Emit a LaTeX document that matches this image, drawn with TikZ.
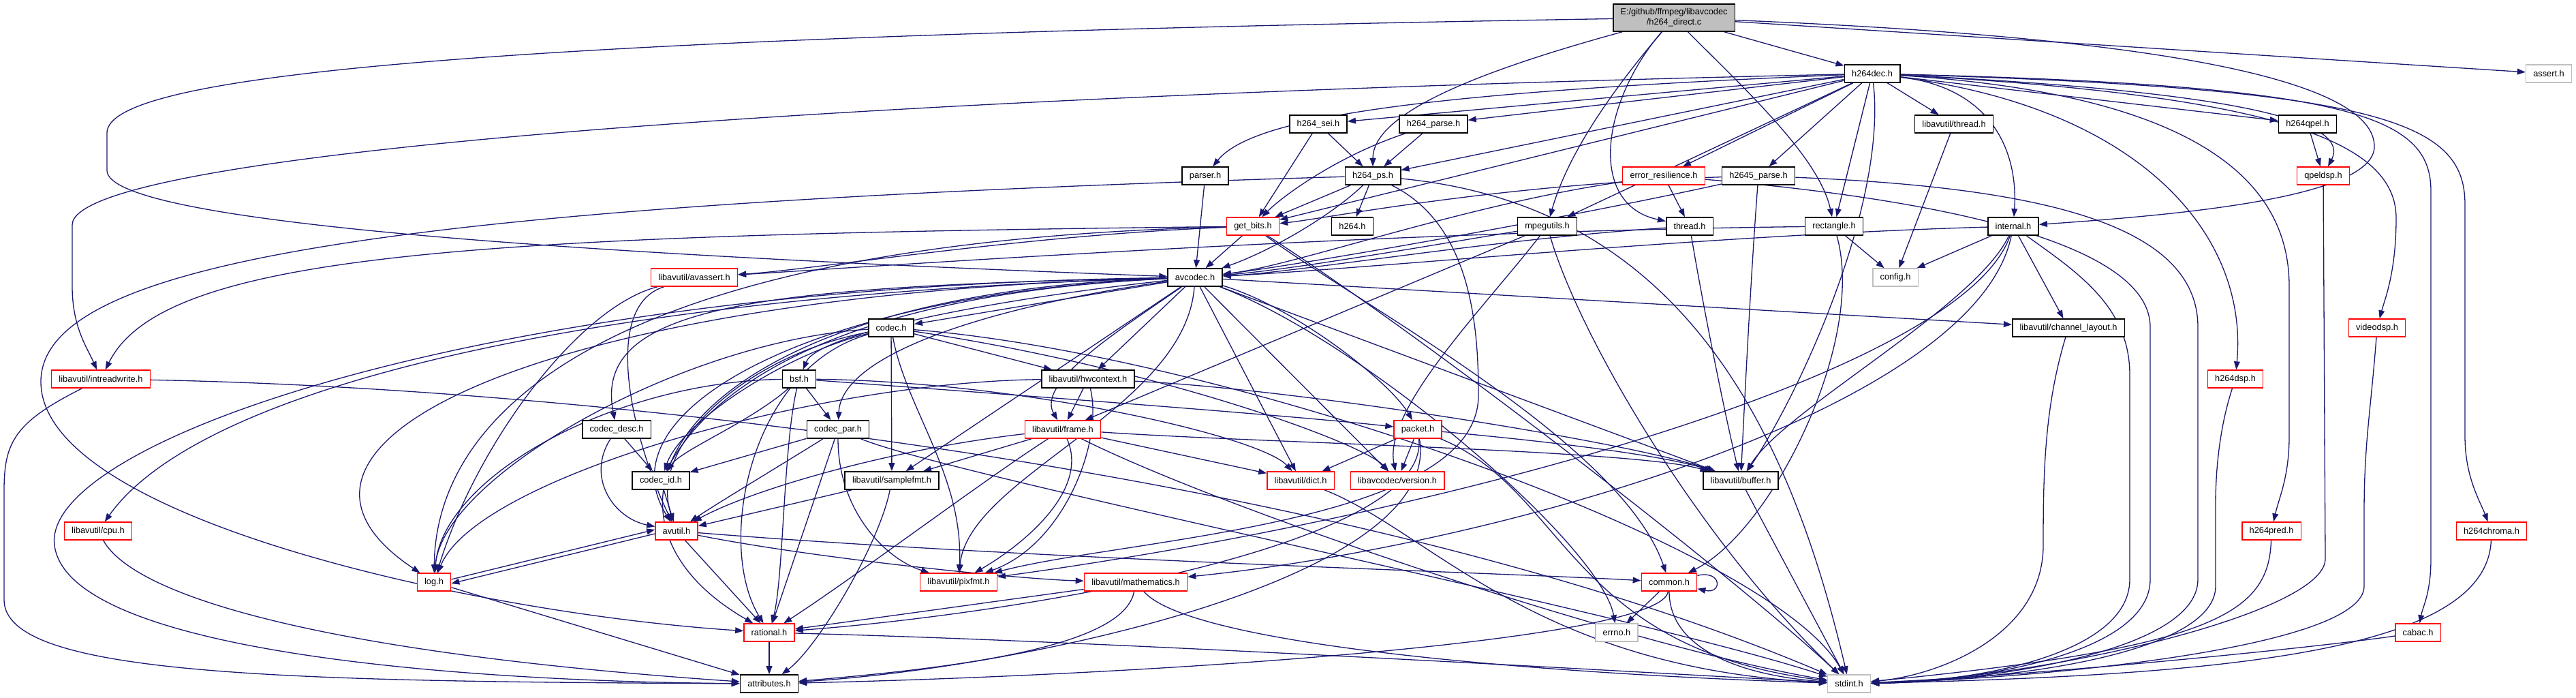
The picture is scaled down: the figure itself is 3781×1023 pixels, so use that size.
\documentclass[tikz,border=0pt]{standalone}
\usepackage{fontspec}
\setmainfont{Liberation Sans}
\usetikzlibrary{arrows.meta}
\definecolor{edgec}{HTML}{191970}
\definecolor{rootfill}{HTML}{BFBFBF}
\definecolor{grayb}{HTML}{BFBFBF}
\newcommand{\nfont}{\fontsize{6.4}{7.6}\selectfont}
\pgfdeclarelayer{bg}
\pgfdeclarelayer{paper}
\pgfsetlayers{paper,bg,main}
\tikzset{
  nblk/.style={draw=black, line width=0.8pt, fill=white, inner xsep=5.4pt, inner ysep=0pt, minimum height=13pt, font=\nfont},
  nred/.style={nblk, draw=red, line width=0.7pt},
  ngry/.style={nblk, draw=grayb, line width=0.7pt},
  edg/.style={draw=edgec, line width=0.65pt, -{Triangle[length=6pt,width=4.4pt]}}
}
\begin{document}
\begin{tikzpicture}[x=0.5pt,y=-0.5pt]
\begin{pgfonlayer}{paper}
\fill[white] (0,0) rectangle (3781,1023);
\end{pgfonlayer}
\useasboundingbox (0,0) rectangle (3781,1023);

% nodes
\node[nblk, fill=rootfill, align=center, minimum height=20pt] (root) at (2457,26) {E:/github/ffmpeg/libavcodec\\/h264\_direct.c};
\node[nblk] (h264dec) at (2748,108) {h264dec.h};
\node[ngry] (assert) at (3741,108) {assert.h};
\node[nblk] (sei) at (1935,182) {h264\_sei.h};
\node[nblk] (parse) at (2104,182) {h264\_parse.h};
\node[nblk] (avthread) at (2868,182) {libavutil/thread.h};
\node[nblk] (qpel) at (3387,182) {h264qpel.h};
\node[nblk] (parser) at (1769,258) {parser.h};
\node[nblk] (ps) at (2015,258) {h264\_ps.h};
\node[nred] (er) at (2442,258) {error\_resilience.h};
\node[nblk] (h2645) at (2581,258) {h2645\_parse.h};
\node[nred] (qpeldsp) at (3410,258) {qpeldsp.h};
\node[nred] (getbits) at (1839,332) {get\_bits.h};
\node[nblk] (h264h) at (1985,332) {h264.h};
\node[nblk] (mpegutils) at (2271,332) {mpegutils.h};
\node[nblk] (thread) at (2480,332) {thread.h};
\node[nblk] (rect) at (2692,332) {rectangle.h};
\node[nblk] (internal) at (2955,332) {internal.h};
\node[nred] (avassert) at (1019,407) {libavutil/avassert.h};
\node[nblk] (avcodec) at (1754,407) {avcodec.h};
\node[ngry] (config) at (2782,407) {config.h};
\node[nblk] (codec) at (1308,481) {codec.h};
\node[nblk] (chl) at (3036,481) {libavutil/channel\_layout.h};
\node[nred] (videodsp) at (3489,481) {videodsp.h};
\node[nred] (irw) at (148,556) {libavutil/intreadwrite.h};
\node[nblk] (bsf) at (1173,556) {bsf.h};
\node[nblk] (hwctx) at (1597,556) {libavutil/hwcontext.h};
\node[nred] (h264dsp) at (3281,556) {h264dsp.h};
\node[nblk] (cdesc) at (905,630) {codec\_desc.h};
\node[nblk] (cpar) at (1230,630) {codec\_par.h};
\node[nred] (frame) at (1560,630) {libavutil/frame.h};
\node[nred] (packet) at (2081,630) {packet.h};
\node[nblk] (cid) at (970,705) {codec\_id.h};
\node[nblk] (sfmt) at (1309,705) {libavutil/samplefmt.h};
\node[nred] (dict) at (1909,705) {libavutil/dict.h};
\node[nred] (version) at (2051,705) {libavcodec/version.h};
\node[nblk] (buffer) at (2555,705) {libavutil/buffer.h};
\node[nred] (cpu) at (144,779) {libavutil/cpu.h};
\node[nred] (avutil) at (993,779) {avutil.h};
\node[nred] (h264pred) at (3334,779) {h264pred.h};
\node[nred] (h264chroma) at (3657,779) {h264chroma.h};
\node[nred] (log) at (637,854) {log.h};
\node[nred] (pixfmt) at (1407,854) {libavutil/pixfmt.h};
\node[nred] (math) at (1667,854) {libavutil/mathematics.h};
\node[nred] (common) at (2450,854) {common.h};
\node[nred] (rational) at (1129,928) {rational.h};
\node[ngry] (errno) at (2373,928) {errno.h};
\node[nred] (cabac) at (3549,928) {cabac.h};
\node[nblk] (attr) at (1129,1003) {attributes.h};
\node[ngry] (stdint) at (2714,1003) {stdint.h};

\begin{pgfonlayer}{bg}
% root
\draw[edg] (root) -- (h264dec);
\draw[edg] (root) -- (assert);
\draw[edg] (root) .. controls (3300,60) and (3485,140) .. (3485,215) .. controls (3485,290) and (3200,315) .. (internal);
\draw[edg] (root) .. controls (700,55) and (157,110) .. (157,195) -- (157,250) .. controls (157,330) and (900,375) .. (avcodec);
\draw[edg] (root) .. controls (2150,110) and (2015,170) .. (ps);
\draw[edg] (root) .. controls (2360,140) and (2300,230) .. (mpegutils);
\draw[edg] (root) .. controls (2350,150) and (2330,300) .. (thread);
\draw[edg] (root) .. controls (2560,130) and (2670,230) .. (rect);
% h264dec
\draw[edg] (h264dec) .. controls (1300,140) and (106,220) .. (106,330) -- (106,420) .. controls (106,480) and (128,510) .. (irw);
\draw[edg] (h264dec) -- (avthread);
\draw[edg] (h264dec) .. controls (3450,125) and (3568,170) .. (3568,280) -- (3568,820) .. controls (3568,870) and (3556,890) .. (cabac);
\draw[edg] (h264dec) -- (er);
\draw[edg] (h264dec) -- (getbits);
\draw[edg] (h264dec) -- (parse);
\draw[edg] (h264dec) -- (ps);
\draw[edg] (h264dec) -- (sei);
\draw[edg] (h264dec) -- (h2645);
\draw[edg] (h264dec) .. controls (3500,130) and (3618,180) .. (3618,300) -- (3618,640) .. controls (3618,700) and (3640,735) .. (h264chroma);
\draw[edg] (h264dec) .. controls (3150,160) and (3300,350) .. (h264dsp);
\draw[edg] (h264dec) .. controls (3250,140) and (3360,280) .. (3360,420) -- (3360,640) .. controls (3360,700) and (3345,730) .. (h264pred);
\draw[edg] (h264dec) -- (qpel);
\draw[edg] (h264dec) .. controls (2930,130) and (2962,230) .. (internal);
\draw[edg] (h264dec) -- (mpegutils);
\draw[edg] (h264dec) .. controls (2100,135) and (1840,170) .. (parser);
\draw[edg] (h264dec) .. controls (3300,135) and (3450,180) .. (qpeldsp);
\draw[edg] (h264dec) -- (rect);
\draw[edg] (h264dec) .. controls (3350,140) and (3517,210) .. (3517,320) .. controls (3517,400) and (3500,440) .. (videodsp);
\draw[edg] (h264dec) .. controls (2770,300) and (2640,580) .. (buffer);
% sei, parse, small
\draw[edg] (sei) -- (getbits);
\draw[edg] (sei) -- (ps);
\draw[edg] (parse) -- (ps);
\draw[edg] (parse) .. controls (1960,230) and (1880,290) .. (getbits);
\draw[edg] (avthread) -- (config);
\draw[edg] (qpel) -- (qpeldsp);
\draw[edg] (parser) -- (avcodec);
% h264_ps
\draw[edg] (ps) -- (getbits);
\draw[edg] (ps) -- (h264h);
\draw[edg] (ps) .. controls (1950,320) and (1860,370) .. (avcodec);
\draw[edg] (ps) .. controls (2160,330) and (2170,480) .. (2170,580) .. controls (2170,770) and (1650,790) .. (pixfmt);
\draw[edg] (ps) .. controls (600,300) and (60,380) .. (60,560) .. controls (60,760) and (700,900) .. (rational);
\draw[edg] (ps) .. controls (2450,300) and (2620,600) .. (stdint);
% error_resilience
\draw[edg] (er) -- (thread);
\draw[edg] (er) .. controls (2150,300) and (1900,390) .. (avcodec);
\draw[edg] (er) .. controls (2700,280) and (3156,330) .. (3156,480) -- (3156,850) .. controls (3156,960) and (2900,1000) .. (stdint);
% h2645
\draw[edg] (h2645) .. controls (2200,270) and (1950,320) .. (getbits);
\draw[edg] (h2645) .. controls (2300,320) and (1900,390) .. (avcodec);
\draw[edg] (h2645) .. controls (2570,400) and (2560,600) .. (buffer);
\draw[edg] (h2645) .. controls (3000,275) and (3226,330) .. (3226,480) -- (3226,850) .. controls (3226,960) and (2900,1000) .. (stdint);
% qpeldsp
\draw[edg] (qpeldsp) -- (3413,820) .. controls (3413,900) and (3000,995) .. (stdint);
% get_bits
\draw[edg] (getbits) -- (avcodec);
\draw[edg] (getbits) .. controls (1500,345) and (1200,395) .. (avassert);
\draw[edg] (getbits) .. controls (700,345) and (240,370) .. (irw);
\draw[edg] (getbits) .. controls (900,355) and (640,600) .. (log);
\draw[edg] (getbits) .. controls (2000,450) and (2380,650) .. (common);
\draw[edg] (getbits) .. controls (2100,500) and (2550,850) .. (stdint);
% mpegutils
\draw[edg] (mpegutils) -- (frame);
\draw[edg] (mpegutils) .. controls (2100,360) and (1900,395) .. (avcodec);
\draw[edg] (mpegutils) .. controls (2180,450) and (2030,600) .. (version);
\draw[edg] (mpegutils) .. controls (2320,500) and (2500,800) .. (stdint);
% thread
\draw[edg] (thread) .. controls (2500,450) and (2530,600) .. (buffer);
\draw[edg] (thread) .. controls (2200,350) and (1900,400) .. (avcodec);
% rectangle
\draw[edg] (rect) -- (config);
\draw[edg] (rect) .. controls (2000,340) and (1300,390) .. (avassert);
\draw[edg] (rect) .. controls (2740,500) and (2600,780) .. (common);
% internal
\draw[edg] (internal) -- (config);
\draw[edg] (internal) .. controls (2500,345) and (2000,395) .. (avcodec);
\draw[edg] (internal) -- (chl);
\draw[edg] (internal) .. controls (2900,450) and (2620,600) .. (buffer);
\draw[edg] (internal) .. controls (2900,600) and (2200,800) .. (math);
\draw[edg] (internal) .. controls (2880,550) and (2100,760) .. (pixfmt);
\draw[edg] (internal) .. controls (3050,400) and (3126,450) .. (3126,550) -- (3126,850) .. controls (3126,960) and (2900,1000) .. (stdint);
% right side to stdint
\draw[edg] (videodsp) .. controls (3480,600) and (3470,650) .. (3470,750) -- (3470,860) .. controls (3470,950) and (3000,995) .. (stdint);
\draw[edg] (h264dsp) .. controls (3260,620) and (3252,680) .. (3252,740) -- (3252,860) .. controls (3252,950) and (3000,995) .. (stdint);
\draw[edg] (h264pred) .. controls (3330,900) and (3250,950) .. (stdint);
\draw[edg] (h264chroma) .. controls (3650,950) and (3300,990) .. (stdint);
\draw[edg] (cabac) .. controls (3400,950) and (3000,990) .. (stdint);
\draw[edg] (chl) .. controls (3000,600) and (2999,700) .. (2999,800) .. controls (2999,930) and (2850,990) .. (stdint);
% avcodec
\draw[edg] (avcodec) -- (codec);
\draw[edg] (avcodec) .. controls (1450,440) and (1200,490) .. (bsf);
\draw[edg] (avcodec) .. controls (1100,420) and (870,450) .. (cdesc);
\draw[edg] (avcodec) .. controls (1450,450) and (1235,520) .. (cpar);
\draw[edg] (avcodec) .. controls (1250,430) and (1050,560) .. (cid);
\draw[edg] (avcodec) .. controls (1200,430) and (880,600) .. (avutil);
\draw[edg] (avcodec) .. controls (800,430) and (330,650) .. (log);
\draw[edg] (avcodec) .. controls (1000,430) and (820,750) .. (rational);
\draw[edg] (avcodec) .. controls (700,420) and (60,650) .. (80,800) .. controls (100,960) and (700,1000) .. (attr);
\draw[edg] (avcodec) .. controls (900,430) and (300,560) .. (cpu);
\draw[edg] (avcodec) -- (sfmt);
\draw[edg] (avcodec) -- (hwctx);
\draw[edg] (avcodec) .. controls (1650,480) and (1520,560) .. (frame);
\draw[edg] (avcodec) .. controls (1740,600) and (1420,700) .. (pixfmt);
\draw[edg] (avcodec) .. controls (1900,450) and (2040,560) .. (packet);
\draw[edg] (avcodec) -- (dict);
\draw[edg] (avcodec) -- (version);
\draw[edg] (avcodec) -- (buffer);
\draw[edg] (avcodec) -- (chl);
\draw[edg] (avcodec) .. controls (2000,500) and (2350,800) .. (errno);
% codec
\draw[edg] (codec) -- (sfmt);
\draw[edg] (codec) -- (hwctx);
\draw[edg] (codec) .. controls (1100,520) and (950,650) .. (avutil);
\draw[edg] (codec) .. controls (1000,500) and (650,700) .. (log);
\draw[edg] (codec) .. controls (1330,600) and (1415,700) .. (pixfmt);
\draw[edg] (codec) .. controls (1100,540) and (1050,800) .. (rational);
\draw[edg] (codec) .. controls (1150,520) and (1000,620) .. (cid);
\draw[edg] (codec) .. controls (1700,540) and (2000,650) .. (version);
\draw[edg] (codec) .. controls (1800,520) and (2600,800) .. (stdint);
% bsf
\draw[edg] (bsf) -- (cpar);
\draw[edg] (bsf) .. controls (1100,620) and (1000,660) .. (cid);
\draw[edg] (bsf) .. controls (900,560) and (650,700) .. (log);
\draw[edg] (bsf) .. controls (1150,650) and (1150,850) .. (rational);
\draw[edg] (bsf) .. controls (1500,560) and (1850,640) .. (dict);
\draw[edg] (bsf) .. controls (1500,580) and (1900,610) .. (packet);
% hwcontext
\draw[edg] (hwctx) -- (frame);
\draw[edg] (hwctx) .. controls (1620,650) and (1560,800) .. (pixfmt);
\draw[edg] (hwctx) .. controls (1900,570) and (2400,650) .. (buffer);
\draw[edg] (hwctx) .. controls (1200,560) and (700,700) .. (log);
% codec_desc, codec_par
\draw[edg] (cdesc) -- (cid);
\draw[edg] (cdesc) .. controls (860,700) and (900,760) .. (avutil);
\draw[edg] (cpar) -- (cid);
\draw[edg] (cpar) .. controls (1150,680) and (1050,740) .. (avutil);
\draw[edg] (cpar) -- (rational);
\draw[edg] (cpar) .. controls (1230,750) and (1300,820) .. (pixfmt);
\draw[edg] (cpar) .. controls (1400,700) and (2400,900) .. (stdint);
% frame
\draw[edg] (frame) .. controls (1300,660) and (1100,720) .. (avutil);
\draw[edg] (frame) .. controls (1850,650) and (2400,660) .. (buffer);
\draw[edg] (frame) -- (dict);
\draw[edg] (frame) .. controls (1450,700) and (1250,850) .. (rational);
\draw[edg] (frame) -- (sfmt);
\draw[edg] (frame) .. controls (1600,720) and (1500,800) .. (pixfmt);
\draw[edg] (frame) .. controls (1800,750) and (2400,950) .. (stdint);
% packet
\draw[edg] (packet) -- (dict);
\draw[edg] (packet) -- (version);
\draw[edg] (packet) .. controls (2300,650) and (2450,670) .. (buffer);
\draw[edg] (packet) .. controls (2100,800) and (1500,900) .. (rational);
\draw[edg] (packet) .. controls (2120,850) and (1500,980) .. (attr);
\draw[edg] (packet) .. controls (2300,720) and (2300,950) .. (stdint);
% lower
\draw[edg] (cid) -- (avutil);
\draw[edg] (sfmt) -- (avutil);
\draw[edg] (sfmt) .. controls (1290,800) and (1200,950) .. (attr);
\draw[edg] (dict) .. controls (2100,780) and (2250,980) .. (stdint);
\draw[edg] (buffer) -- (stdint);
\draw[edg] (cpu) .. controls (200,880) and (500,960) .. (attr);
\draw[edg] (irw) .. controls (20,620) and (6,650) .. (6,720) -- (6,880) .. controls (6,990) and (400,1000) .. (attr);
\draw[edg] (irw) .. controls (900,570) and (2000,700) .. (stdint);
\draw[edg] (avassert) .. controls (880,450) and (930,650) .. (avutil);
\draw[edg] (avassert) .. controls (850,450) and (700,650) .. (log);
\draw[edg] (avutil) .. controls (1500,820) and (2200,840) .. (common);
\draw[edg] (avutil) -- (rational);
\draw[edg] (avutil) .. controls (1200,820) and (1500,850) .. (math);
\draw[edg] ([yshift=-2pt]avutil.west) -- ([yshift=-1pt]log.east);
\draw[edg] ([yshift=2pt]log.east) -- ([yshift=1pt]avutil.west);
\draw[edg] (log) -- (attr);
\draw[edg] (math) .. controls (1750,950) and (2300,990) .. (stdint);
\draw[edg] (math) .. controls (1650,950) and (1400,980) .. (attr);
\draw[edg] (math) -- (rational);
\draw[edg] (common) -- (errno);
\draw[edg] (common) .. controls (2450,950) and (2550,990) .. (stdint);
\draw[edg] (common) .. controls (2440,940) and (1700,990) .. (attr);
\draw[edg] ([yshift=-2pt]common.north east) .. controls (2528,836) and (2528,872) .. ([yshift=2pt]common.south east);
\draw[edg] (rational) -- (attr);
\draw[edg] (rational) .. controls (1600,940) and (2300,980) .. (stdint);
\end{pgfonlayer}
\end{tikzpicture}
\end{document}
